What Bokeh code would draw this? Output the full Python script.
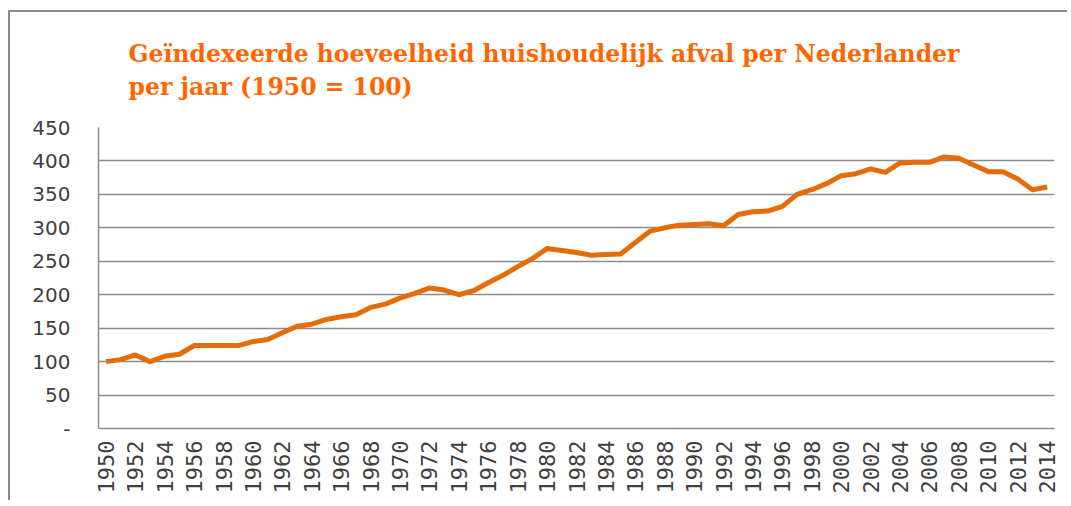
import math
from bokeh.plotting import figure
from bokeh.models import FixedTicker, Title, Range1d
from bokeh.embed import file_html
from bokeh.resources import INLINE

title_lines = ["Geïndexeerde hoeveelheid huishoudelijk afval per Nederlander",
               "per jaar (1950 = 100)"]
years = list(range(1950, 2015))
index_values = [100, 103, 110, 100, 108, 111, 124, 124, 124, 124,
                130, 133, 143, 153, 156, 163, 167, 170, 181, 186,
                195, 202, 210, 207, 200, 206, 218, 229, 242, 254,
                269, 266, 263, 259, 260, 261, 278, 295, 300, 304,
                305, 306, 303, 320, 324, 325, 332, 350, 357, 366,
                378, 381, 388, 383, 397, 398, 398, 406, 404, 394,
                384, 384, 373, 357, 361]
y_ticks = [0, 50, 100, 150, 200, 250, 300, 350, 400, 450]
y_tick_labels = {0: "-"}
x_ticks = list(range(1950, 2015, 2))

GRID = "#8c8c8c"
ORANGE = "#E46C0A"

p = figure(width=1059, height=490, output_backend="svg", toolbar_location=None,
           x_range=Range1d(1949.5, 2014.5), y_range=Range1d(0, 450),
           min_border_left=88, min_border_right=15, min_border_top=115,
           min_border_bottom=74)
p.styles = {"border-left": "2px solid " + GRID, "border-top": "2px solid " + GRID,
            "margin-left": "8px", "margin-top": "10px"}
p.outline_line_color = None
p.background_fill_color = "white"
p.border_fill_color = "white"

p.title = Title(text="\n".join(title_lines), align="left", offset=30,
                text_font="DejaVu Serif", text_font_style="bold",
                text_font_size="23.5px", text_color="#FF6600",
                text_line_height=1.18, standoff=52)

p.line(years, index_values, line_color=ORANGE, line_width=5, line_join="round")

p.xgrid.grid_line_color = None
p.ygrid.grid_line_color = GRID
p.ygrid.grid_line_width = 1.5
p.ygrid.ticker = FixedTicker(ticks=y_ticks)

p.yaxis.ticker = FixedTicker(ticks=y_ticks)
p.yaxis.major_label_overrides = y_tick_labels
p.yaxis.axis_line_color = GRID
p.yaxis.axis_line_width = 1.5
p.yaxis.major_tick_line_color = None
p.yaxis.minor_tick_line_color = None
p.yaxis.major_tick_out = 0
p.yaxis.major_tick_in = 0
p.yaxis.major_label_standoff = 28
p.yaxis.major_label_text_font = "DejaVu Sans"
p.yaxis.major_label_text_font_size = "20px"
p.yaxis.major_label_text_color = "#404040"

p.xaxis.ticker = FixedTicker(ticks=x_ticks)
p.xaxis.major_label_orientation = math.pi / 2
p.xaxis.axis_line_color = GRID
p.xaxis.axis_line_width = 1.5
p.xaxis.major_tick_line_color = None
p.xaxis.minor_tick_line_color = None
p.xaxis.major_tick_out = 0
p.xaxis.major_tick_in = 0
p.xaxis.major_label_standoff = 12
p.xaxis.major_label_text_font = "DejaVu Sans Mono"
p.xaxis.major_label_text_font_size = "22px"
p.xaxis.major_label_text_color = "#404040"

open("out.html", "w").write(file_html(p, INLINE))
